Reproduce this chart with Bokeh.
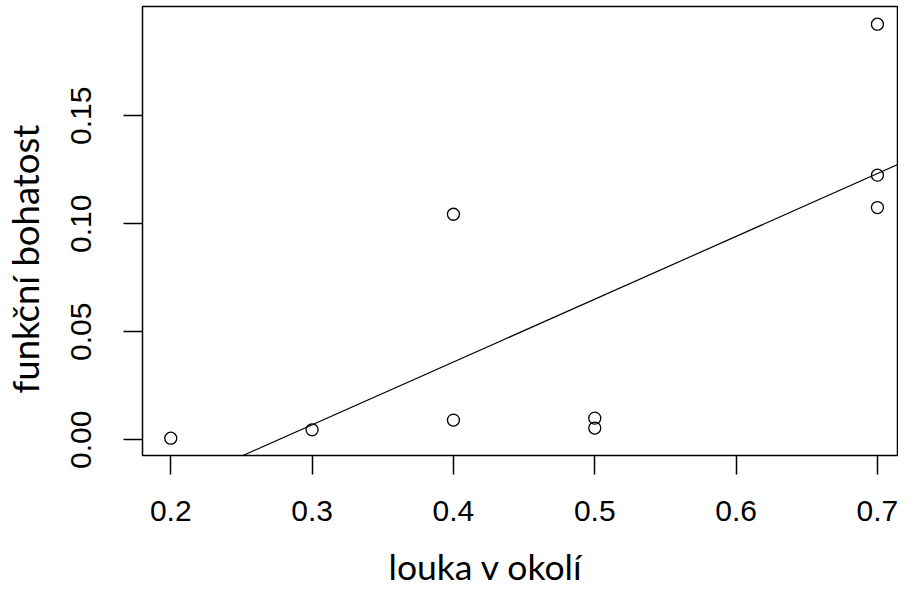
import numpy as np
from bokeh.plotting import figure
from bokeh.models import Range1d, FixedTicker, PrintfTickFormatter, Slope, Title
from bokeh.embed import file_html
from bokeh.resources import INLINE

# data
louka = [0.2, 0.3, 0.4, 0.4, 0.5, 0.5, 0.7, 0.7, 0.7]
bohatost = [0.0007, 0.0046, 0.1044, 0.0091, 0.0100, 0.0054, 0.1924, 0.1225, 0.1075]
x_ticks = [0.2, 0.3, 0.4, 0.5, 0.6, 0.7]
y_ticks = [0.00, 0.05, 0.10, 0.15]
x_title = "louka v okolí"
y_title = "funkční bohatost"

# least-squares fit (abline(lm(...)))
slope, intercept = np.polyfit(louka, bohatost, 1)

p = figure(width=898, height=599, output_backend="svg", toolbar_location=None,
           x_range=Range1d(0.18, 0.7142), y_range=Range1d(-0.0073, 0.2006),
           min_border_left=142, min_border_right=1, min_border_top=6, min_border_bottom=144)

p.background_fill_color = "white"
p.border_fill_color = "white"
p.outline_line_color = "black"
p.outline_line_width = 1.5
p.xgrid.grid_line_color = None
p.ygrid.grid_line_color = None

for ax in (p.xaxis, p.yaxis):
    ax.axis_line_color = None
    ax.major_tick_line_color = "black"
    ax.major_tick_line_width = 1.5
    ax.major_tick_out = 19
    ax.major_tick_in = 0
    ax.minor_tick_line_color = None
    ax.major_label_text_font = "Liberation Sans"
    ax.major_label_text_font_size = "30px"
    ax.major_label_text_color = "black"

p.xaxis.ticker = FixedTicker(ticks=x_ticks)
p.xaxis.formatter = PrintfTickFormatter(format="%.1f")
p.xaxis.major_label_standoff = 26
p.yaxis.ticker = FixedTicker(ticks=y_ticks)
p.yaxis.formatter = PrintfTickFormatter(format="%.2f")
p.yaxis.major_label_orientation = "vertical"
p.yaxis.major_label_standoff = 32

p.scatter(louka, bohatost, marker="circle", size=12, fill_color=None,
          line_color="black", line_width=1.3)

p.add_layout(Slope(gradient=slope, y_intercept=intercept, line_color="black", line_width=1.2))

# blank spacers that push the axis titles outwards
p.add_layout(Title(text=" ", text_font_size="1px", standoff=18), "below")
p.add_layout(Title(text=" ", text_font_size="1px", standoff=17), "left")

xt = Title(text=x_title, align="left", offset=246, vertical_align="top",
           text_font="Lato", text_font_size="35.5px", text_font_style="normal",
           text_color="black", standoff=0)
p.add_layout(xt, "below")
yt = Title(text=y_title, align="left", offset=62, vertical_align="top",
           text_font="Lato", text_font_size="36.5px", text_font_style="normal",
           text_color="black", standoff=0)
p.add_layout(yt, "left")

open("out.html", "w").write(file_html(p, INLINE))
